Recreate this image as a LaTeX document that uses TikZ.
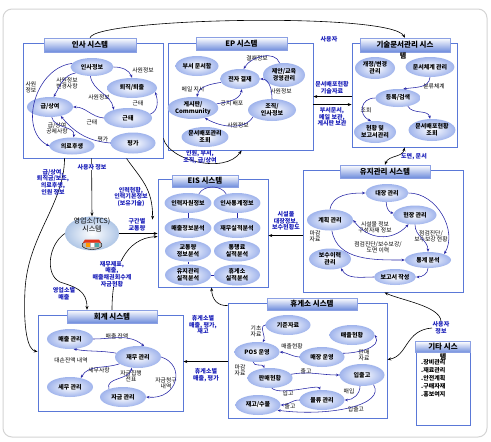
\documentclass[tikz,border=0pt]{standalone}
\usepackage{fontspec}
\setmainfont{Noto Sans CJK KR}
\usetikzlibrary{shapes.geometric,arrows.meta}
\definecolor{ellout}{RGB}{160,180,236}
\definecolor{tcsout}{RGB}{175,198,230}
\definecolor{boxblue}{RGB}{90,120,215}
\definecolor{flowblue}{RGB}{35,35,165}
\definecolor{labblue}{RGB}{25,30,185}
\definecolor{titbot}{RGB}{110,140,220}
\definecolor{framegray}{RGB}{212,212,212}
\tikzset{
  sysbox/.style={draw=boxblue, line width=0.9pt, fill=white, inner sep=0pt},
  systitle/.style={draw=boxblue!70, line width=0.4pt, top color=white, bottom color=titbot, inner sep=0pt, font=\fontsize{7.5}{8}\selectfont\bfseries},
  ell/.style={ellipse, inner color=white, outer color=ellout, minimum width=#1, minimum height=20pt, inner sep=0pt, align=center, font=\fontsize{6}{6.8}\selectfont\bfseries},
  ell/.default=45pt,
  flow/.style={draw=flowblue, line width=0.55pt, -{Stealth[length=3.2pt,width=2.6pt]}},
  link/.style={draw=black, line width=0.6pt, -{Stealth[length=3.8pt,width=3pt]}},
  lab/.style={font=\fontsize{5.8}{6.3}\selectfont, align=center, inner sep=0.3pt},
  blab/.style={font=\fontsize{6}{6.6}\selectfont\bfseries, text=labblue, align=center, inner sep=0.5pt},
}
\begin{document}
\begin{tikzpicture}[x=1pt,y=-1pt]
\useasboundingbox (0,0) rectangle (491,442);
\fill[white] (0,0) rectangle (491,442);
\draw[framegray, line width=1pt, rounded corners=9pt] (3,9) rectangle (487,437);

% ---------- system boxes ----------
\node[sysbox, minimum width=140pt, minimum height=115pt] (hrbox) at (93,100.5) {};
\node[sysbox, minimum width=145pt, minimum height=107pt] (epbox) at (240.5,96.5) {};
\node[sysbox, minimum width=105pt, minimum height=104pt] (tdbox) at (404.5,95) {};
\node[sysbox, minimum width=160pt, minimum height=122pt] (mbox) at (383,231) {};
\node[sysbox, minimum width=110pt, minimum height=108pt] (eisbox) at (213,233) {};
\node[sysbox, minimum width=145pt, minimum height=96pt] (accbox) at (110.5,363) {};
\node[sysbox, minimum width=159pt, minimum height=115pt] (restbox) at (307.5,360.5) {};
\node[sysbox, minimum width=54pt, minimum height=83pt] (othbox) at (443,383.5) {};

% ---------- titles ----------
\node[systitle, minimum width=92pt, minimum height=14pt] (hrt) at (90,45) {인사 시스템};
\node[systitle, minimum width=91pt, minimum height=13pt] (ept) at (241.5,44) {EP 시스템};
\node[systitle, minimum width=90pt, minimum height=14pt] (tdt) at (405,45) {기술문서관리 시스};
\node[font=\fontsize{7}{8}\selectfont\bfseries, inner sep=0pt] (tdt2) at (403,56) {템};
\node[systitle, minimum width=90pt, minimum height=13pt] (mt) at (385,171.5) {유지관리 시스템};
\node[systitle, minimum width=66pt, minimum height=12pt] (eist) at (205,181) {EIS 시스템};
\node[systitle, minimum width=90pt, minimum height=13pt] (acct) at (112,316.5) {회계 시스템};
\node[systitle, minimum width=90pt, minimum height=12pt] (restt) at (312,304) {휴게소 시스템};
\node[systitle, minimum width=55pt, minimum height=11pt] (otht) at (443,347) {기타 시스};
\node[font=\fontsize{7}{8}\selectfont\bfseries, inner sep=0pt] (otht2) at (443,356.5) {템};
\node[anchor=north west, align=left, font=\fontsize{6}{8}\selectfont\bfseries, inner sep=0pt] (othlist) at (421,359.5) {.장비관리\\.재료관리\\.안전계획\\.구매자재\\.홍보여지};

% ---------- HR system ----------
\node[ell=43pt, minimum height=18pt] (hr1) at (92,67) {인사정보};
\node[ell=50pt] (hr2) at (132,88) {퇴직/퇴출};
\node[ell=46pt] (hr3) at (50,107) {급/상여};
\node[ell=48pt] (hr4) at (128,118) {근태};
\node[ell=45pt, minimum height=17pt] (hr5) at (72,146) {의료후생};
\node[ell=45pt, minimum height=21pt] (hr6) at (133,143) {평가};
\node[lab] at (143,70) {사원정보};
\node[lab] at (67,83) {사원정보\\변경사항};
\node[lab] at (99,97) {사원정보};
\node[lab] at (138,103) {근태};
\node[lab] at (92,122) {근태};
\node[lab] at (57,128) {급/상여\\공제사항};
\node[lab] at (103,139) {평가};
\node[lab] at (31,87) {사원\\정보};
\draw[flow] (hr1.east) to[out=0,in=110] (hr2.north);
\draw[flow] (hr1.200) to[out=190,in=60] (hr3.70);
\draw[flow] (hr1.-100) to[out=-80,in=100] (hr4.150);
\draw[flow] (hr4.10) to[out=20,in=-70] (hr2.-10);
\draw[flow] (hr4.west) to[out=175,in=0] (hr3.east);
\draw[flow] (hr6.west) to[out=175,in=-50] (hr3.-40);
\draw[flow] (hr3.-80) to[out=-80,in=80] (hr5.80);
\draw[flow] (hr1.170) .. controls (35,68) and (18,130) .. (hr5.west);

% ---------- EP system ----------
\node[ell=43pt] (ep1) at (197,66) {부서 문서함};
\node[ell=40pt] (ep2) at (240,79) {전자 결재};
\node[ell=42pt, minimum height=24pt] (ep3) at (284,75) {제안/교육\\경영관리};
\node[ell=46pt, minimum height=22pt] (ep4) at (193,108) {게시판/\\Community};
\node[ell=48pt, minimum height=22pt] (ep5) at (272,110) {조직/\\인사정보};
\node[ell=46pt] (ep6) at (205,137) {문서배포관리\\조회};
\node[lab] at (257,58) {결재정보};
\node[lab] at (193,89) {메일 지시};
\node[lab] at (232,103) {공지 배포};
\node[lab] at (281,91) {사원정보};
\node[lab] at (238,125) {사원정보};
\draw[flow] (ep3.110) to[out=110,in=60] (ep2.70);
\draw[flow] (ep5.north) to[out=90,in=0] (ep2.east);
\draw[flow] (ep2.190) to[out=190,in=80] (ep4.70);
\draw[flow] (ep4.10) to[out=10,in=-100] (ep2.-80);
\draw[flow] (ep5.200) .. controls (245,130) and (222,128) .. (ep4.-40);

% ---------- technical documents ----------
\node[ell=40pt, minimum height=22pt] (td1) at (375,68) {개정/변경\\관리};
\node[ell=46pt] (td2) at (430,67) {문서체계 관리};
\node[ell=45pt, minimum height=18pt] (td3) at (398,98) {등록/검색};
\node[ell=42pt, minimum height=22pt] (td4) at (375,132) {현황 및\\보고서관리};
\node[ell=42pt, minimum height=22pt] (td5) at (432,130) {문서배포현황\\조회};
\node[lab] at (434,86) {분류체계};
\node[lab] at (366,110) {조회};
\draw[flow] (td2.south) to[out=-95,in=10] (td3.60);
\draw[flow] (td3.west) .. controls (360,98) and (358,115) .. (td4.110);
\draw[flow] (td3.-40) to[out=-60,in=100] (td5.100);

% ---------- maintenance ----------
\node[ell=43pt, minimum height=18pt] (m1) at (387,193) {대장 관리};
\node[ell=43pt, minimum height=19pt] (m2) at (415,215) {현장 관리};
\node[ell=46pt, minimum height=21pt] (m3) at (330,220) {계획 관리};
\node[ell=46pt, minimum height=16pt] (m4) at (428,260) {통계 분석};
\node[ell=42pt, minimum height=16pt] (m5) at (395,277) {보고서 작성};
\node[ell=42pt, minimum height=21pt] (m6) at (330,259) {보수이력\\관리};
\node[lab] at (375,227) {시설물 정보\\구성자재 정보};
\node[lab] at (315,236) {마감\\자료};
\node[lab] at (431,236) {점검진단/\\보수보강 현황};
\node[lab] at (378,247) {점검진단/보수보강/\\도면 이력};
\draw[flow] (m3.north) to[out=80,in=180] (m1.west);
\draw[flow] (m1.-95) to[out=-90,in=170] (m2.175);
\draw[flow] (m1.east) to[out=0,in=60] (m4.20);
\draw[flow] (m2.south) to[out=-90,in=90] (m4.north);
\draw[flow] (m3.-80) to[out=-80,in=180] (m4.west);
\draw[flow, {Stealth[length=3.2pt,width=2.6pt]}-{Stealth[length=3.2pt,width=2.6pt]}] (m3.east) .. controls (368,240) and (392,242) .. (m2.-125);
\draw[flow] (m4.south) to[out=-90,in=0] (m5.east);
\draw[flow] (m5.west) to[out=180,in=-60] (m6.-40);

% ---------- EIS ----------
\node[ell=46pt] (e1) at (188,203) {인력자원정보};
\node[ell=46pt] (e2) at (237,203) {인사통계정보};
\node[ell=46pt] (e3) at (188,228) {매출정보분석};
\node[ell=46pt] (e4) at (237,228) {재무실적분석};
\node[ell=46pt, minimum height=21pt] (e5) at (188,251) {교통량\\정보분석};
\node[ell=46pt, minimum height=21pt] (e6) at (237,251) {통행료\\실적분석};
\node[ell=46pt, minimum height=21pt] (e7) at (188,275) {유지관리\\실적분석};
\node[ell=46pt, minimum height=21pt] (e8) at (237,275) {휴게소\\실적분석};
\draw[flowblue, line width=0.5pt] (e1.40) to[out=60,in=120] (e2.140);
\draw[flowblue, line width=0.5pt] (e1.south) -- (e3.north);
\draw[flowblue, line width=0.5pt] (e2.south) -- (e4.north);
\draw[flowblue, line width=0.5pt] (e5.south) -- (e7.north);
\draw[flowblue, line width=0.5pt] (e7.east) -- (e8.west);

% ---------- TCS ----------
\node[ellipse, minimum width=54pt, minimum height=34pt, inner color=white, outer color=tcsout, inner sep=0pt] (tcs) at (92,233.5) {};
\node[align=center, font=\fontsize{7}{8}\selectfont, inner sep=0pt] (tcst) at (92,225) {영업소(TCS)\\시스템};
\fill[gray!55] (92,245) ellipse (10pt and 4.5pt);
\draw[black, line width=0.4pt] (92,245) ellipse (10pt and 4.5pt);
\fill[red!60!brown] (85,239.5) -- (99,239.5) -- (101,242.5) -- (83,242.5) -- cycle;
\fill[orange!80!yellow] (85.5,242.5) rectangle (89.5,247);
\fill[teal!70] (94.5,242.5) rectangle (98.5,247);
\fill[white] (90.5,243) rectangle (93.5,247);

% ---------- accounting ----------
\node[ell=46pt] (a1) at (70,339) {매출 관리};
\node[ell=46pt, minimum height=22pt] (a2) at (138,357) {재무 관리};
\node[ell=46pt] (a3) at (70,387) {세무 관리};
\node[ell=46pt] (a4) at (123,397) {자금 관리};
\node[lab] at (117,336) {매출 잔액};
\node[lab] at (71,360) {대손잔액 내역};
\node[lab] at (99,370) {세무사항};
\node[lab] at (131,376) {자금집행\\전표};
\node[lab] at (166,383) {자금청구\\내역};
\draw[flow] (a1.east) to[out=0,in=140] (a2.60);
\draw[flow] (a2.170) to[out=170,in=-10] (a1.-70);
\draw[flow] (a2.200) to[out=200,in=60] (a3.40);
\draw[flow] (a4.150) to[out=110,in=-100] (a2.-120);
\draw[flow] (a2.east) .. controls (186,365) and (178,400) .. (a4.east);

% ---------- rest area ----------
\node[ell] (r1) at (288,325) {기준자료};
\node[ell] (r2) at (352,335) {매출현황};
\node[ell] (r3) at (257,352) {POS 운영};
\node[ell] (r4) at (322,357) {매장 운영};
\node[ell] (r5) at (270,378) {판매현황};
\node[ell, minimum height=22pt] (r6) at (362,375) {입출고};
\node[ell] (r7) at (322,400) {물류 관리};
\node[ell] (r8) at (258,405) {재고/수불};
\node[lab] at (256,331) {기초\\자료};
\node[lab] at (292,346) {매출현황};
\node[lab] at (364,355) {판매\\자료};
\node[lab] at (240,370) {마감\\자료};
\node[lab] at (306,371) {출고};
\node[lab] at (288,393) {입고};
\node[lab] at (349,391) {매입};
\node[lab] at (290,406) {출고};
\node[lab] at (356,409) {입출고};
\draw[flow] (r1.west) to[out=190,in=60] (r3.60);
\draw[flow] (r4.west) to[out=175,in=-5] (r3.east);
\draw[flow] (r4.10) to[out=0,in=-60] (r2.east);
\draw[flow] (r3.-110) to[out=-90,in=110] (r5.120);
\draw[flow] (r5.10) to[out=10,in=180] (r6.west);
\draw[flow] (r5.-80) .. controls (280,396) and (318,384) .. (r7.100);
\draw[flow] (r6.-100) to[out=-90,in=0] (r7.east);
\draw[flow] (r7.west) to[out=180,in=0] (r8.east);
\draw[flow] (r6.-40) .. controls (386,405) and (330,417) .. (r8.-15);

% ---------- links between systems ----------
\draw[link] (hrt.north) .. controls (95,18) and (390,12) .. (tdt.north);
\node[blab] at (329,39) {사용자};

\draw[link] ([yshift=-54pt]tdbox.north west) -- ([yshift=-54pt]epbox.north east);
\node[blab] at (332,88) {문서배포현황\\기술자료};
\draw[link] ([yshift=-62pt]epbox.north east) -- ([yshift=-62pt]tdbox.north west);
\node[blab] at (332,117) {부서문서,\\메일 보관,\\게시판 보관};

\draw[link, {Stealth[length=3.8pt,width=3pt]}-{Stealth[length=3.8pt,width=3pt]}] (tdbox.south) to[out=-100,in=70] (mt.north);
\node[blab] at (414,157) {도면, 문서};

\draw[link] ([yshift=20pt]hrbox.south east) .. controls (168,160) and (225,175) .. ([xshift=74pt]epbox.south west);
\node[blab] at (200,157) {인원, 부서,\\조직, 급/상여};

\draw[link] ([xshift=69pt]hrbox.south west) -- (tcs.north);
\node[blab, fill=white] at (92,167) {사용자 정보};

\draw[link] ([xshift=42pt]hrbox.south west) .. controls (64,205) and (28,235) .. (25,290) .. controls (23,330) and (28,350) .. ([yshift=-37pt]accbox.north west);
\node[blab] at (53,182) {급/상여,\\퇴직금/보조,\\의료후생,\\인원 정보};

\draw[link] ([xshift=104pt]hrbox.south west) .. controls (140,178) and (153,188) .. ([xshift=-5pt,yshift=-41pt]eisbox.north west);
\node[blab] at (131,197) {인력현황,\\인력기본정보\\(보유기술)};

\draw[link] (tcs.east) -- (tcs.east -| eisbox.west);
\node[blab] at (137,225) {구간별\\교통량};

\draw[link] (tcs.west) .. controls (48,245) and (45,275) .. (60,282) .. controls (75,287) and (87,290) .. ([xshift=-25pt]acct.north);
\node[blab] at (64,294) {영업소별\\매출};

\draw[link] (acct.north) .. controls (112,268) and (126,238) .. ([yshift=-58pt]eisbox.north west);
\node[blab, fill=white] at (112,274) {재무제표,\\매출,\\매출채권회수계\\자금현황};

\draw[link] ([yshift=-66pt]mbox.north west) -- ([yshift=-57pt]eisbox.north east);
\node[blab] at (286,221) {시설물\\대장정보,\\보수현황도};

\draw[link] ([yshift=-3pt]restbox.north west) .. controls (218,306) and (212,300) .. ([xshift=54pt]eisbox.south west);
\node[blab] at (203,325) {휴게소별\\매출, 평가,\\재고};

\draw[link] ([yshift=-59pt]restbox.north west) -- ([yshift=-47pt]accbox.north east);
\node[blab] at (206,375) {휴게소별\\매출, 평가};

\node[blab] (usr) at (441,328) {사용자\\정보};
\draw[link] (usr.north) .. controls (440,306) and (400,300) .. ([xshift=82pt]mbox.south west);
\draw[link] (usr.west) .. controls (405,330) and (408,356) .. ([yshift=-57pt]restbox.north east);
\end{tikzpicture}
\end{document}
